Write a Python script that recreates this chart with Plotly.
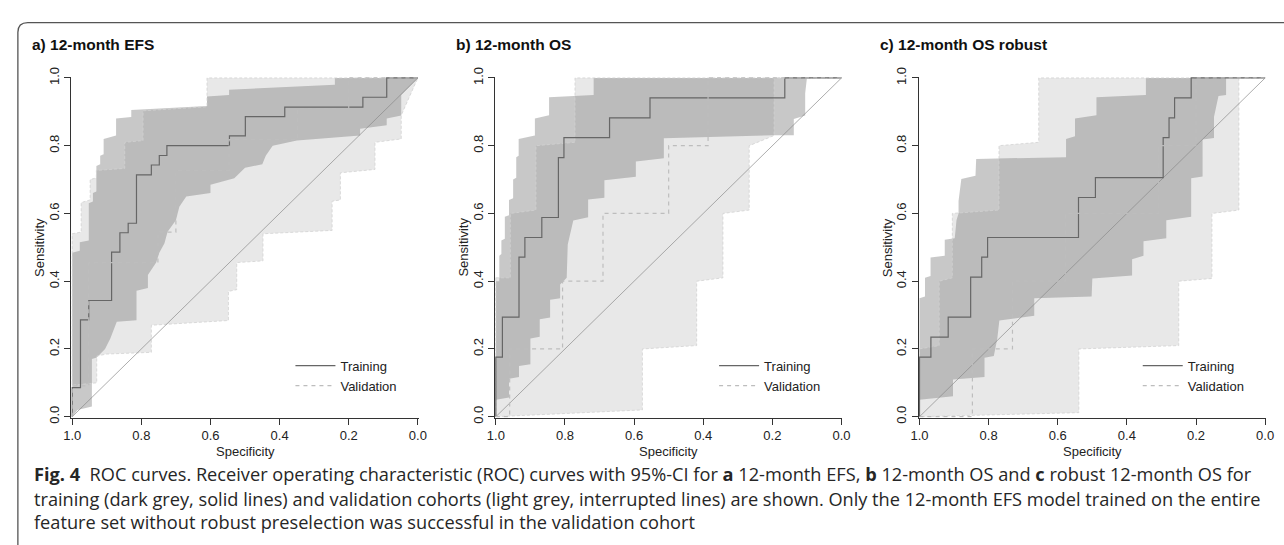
import plotly.graph_objects as go

# ---------------- data (specificity, sensitivity) ----------------
TICKS = [0.0, 0.2, 0.4, 0.6, 0.8, 1.0]
TICK_TEXT = ["0.0", "0.2", "0.4", "0.6", "0.8", "1.0"]
PANEL_TITLES = ["a) 12-month EFS", "b) 12-month OS", "c) 12-month OS robust"]
SERIES_NAMES = ["Training", "Validation"]

# Panel a: 12-month EFS
a_train_spec = [1.0, 1.0, 0.976, 0.952, 0.886, 0.862, 0.838, 0.814, 0.771, 0.748, 0.726, 0.545, 0.499, 0.385, 0.159, 0.090, 0.0]
a_train_sens = [0.0, 0.086, 0.286, 0.343, 0.486, 0.543, 0.571, 0.714, 0.743, 0.771, 0.800, 0.829, 0.886, 0.914, 0.943, 1.0, 1.0]
a_val_spec = [1.0, 1.0, 0.952, 0.752, 0.700, 0.546, 0.348, 0.200, 0.0]
a_val_sens = [0.0, 0.091, 0.455, 0.545, 0.727, 0.818, 0.909, 1.0, 1.0]
a_trci_up_spec = [1.0, 0.978, 0.978, 0.952, 0.952, 0.94, 0.94, 0.93, 0.93, 0.919, 0.919, 0.909, 0.909, 0.873, 0.873, 0.829, 0.829, 0.61, 0.61, 0.546, 0.546, 0.24, 0.24, 0.0]
a_trci_up_sens = [0.484, 0.49, 0.515, 0.52, 0.63, 0.635, 0.66, 0.665, 0.74, 0.745, 0.77, 0.775, 0.82, 0.83, 0.88, 0.885, 0.905, 0.917, 0.945, 0.95, 0.965, 0.98, 1.0, 1.0]
a_trci_lo_spec = [1.0, 0.985, 0.943, 0.943, 0.929, 0.905, 0.89, 0.871, 0.814, 0.814, 0.781, 0.781, 0.757, 0.748, 0.733, 0.724, 0.70, 0.69, 0.67, 0.60, 0.60, 0.531, 0.50, 0.45, 0.44, 0.42, 0.35, 0.167, 0.167, 0.09, 0.09, 0.048, 0.048, 0.0]
a_trci_lo_sens = [0.0, 0.02, 0.03, 0.17, 0.175, 0.20, 0.23, 0.28, 0.285, 0.372, 0.38, 0.418, 0.455, 0.484, 0.512, 0.546, 0.58, 0.62, 0.65, 0.66, 0.685, 0.704, 0.735, 0.745, 0.77, 0.80, 0.815, 0.83, 0.85, 0.86, 0.88, 0.889, 0.95, 1.0]
a_vaci_up_spec = [1.0, 0.974, 0.974, 0.948, 0.948, 0.93, 0.93, 0.848, 0.848, 0.795, 0.795, 0.61, 0.61, 0.0]
a_vaci_up_sens = [0.54, 0.545, 0.632, 0.64, 0.70, 0.705, 0.727, 0.733, 0.81, 0.815, 0.903, 0.915, 1.0, 1.0]
a_vaci_lo_spec = [1.0, 0.929, 0.929, 0.90, 0.771, 0.771, 0.548, 0.548, 0.524, 0.524, 0.448, 0.448, 0.248, 0.248, 0.224, 0.224, 0.124, 0.124, 0.048, 0.048, 0.0]
a_vaci_lo_sens = [0.093, 0.10, 0.179, 0.185, 0.19, 0.27, 0.284, 0.37, 0.375, 0.455, 0.46, 0.54, 0.55, 0.636, 0.64, 0.72, 0.73, 0.81, 0.82, 0.89, 1.0]

# Panel b: 12-month OS
b_train_spec = [1.0, 1.0, 0.981, 0.933, 0.916, 0.867, 0.819, 0.803, 0.671, 0.554, 0.164, 0.0]
b_train_sens = [0.0, 0.176, 0.294, 0.471, 0.529, 0.588, 0.765, 0.824, 0.882, 0.941, 1.0, 1.0]
b_val_spec = [1.0, 0.960, 0.807, 0.690, 0.500, 0.386, 0.0]
b_val_sens = [0.0, 0.2, 0.4, 0.6, 0.8, 1.0, 1.0]
b_trci_up_spec = [1.0, 0.99, 0.99, 0.984, 0.984, 0.974, 0.974, 0.962, 0.962, 0.95, 0.95, 0.941, 0.941, 0.934, 0.934, 0.887, 0.887, 0.846, 0.846, 0.717, 0.717, 0.0]
b_trci_up_sens = [0.40, 0.40, 0.475, 0.48, 0.52, 0.525, 0.59, 0.595, 0.64, 0.645, 0.70, 0.705, 0.766, 0.77, 0.82, 0.83, 0.88, 0.89, 0.943, 0.95, 1.0, 1.0]
b_trci_lo_spec = [1.0, 0.962, 0.962, 0.933, 0.933, 0.90, 0.90, 0.873, 0.873, 0.843, 0.843, 0.814, 0.814, 0.795, 0.792, 0.776, 0.733, 0.733, 0.686, 0.686, 0.595, 0.595, 0.514, 0.514, 0.195, 0.138, 0.138, 0.105, 0.105, 0.10, 0.0]
b_trci_lo_sens = [0.05, 0.057, 0.112, 0.117, 0.15, 0.155, 0.231, 0.236, 0.288, 0.293, 0.345, 0.35, 0.39, 0.41, 0.508, 0.579, 0.589, 0.641, 0.646, 0.698, 0.708, 0.753, 0.763, 0.822, 0.831, 0.831, 0.879, 0.889, 0.955, 1.0, 1.0]
b_vaci_up_spec = [1.0, 0.958, 0.958, 0.884, 0.884, 0.771, 0.771, 0.0]
b_vaci_up_sens = [0.41, 0.41, 0.60, 0.61, 0.80, 0.81, 1.0, 1.0]
b_vaci_lo_spec = [1.0, 0.96, 0.576, 0.576, 0.419, 0.419, 0.343, 0.343, 0.267, 0.267, 0.195, 0.195, 0.0]
b_vaci_lo_sens = [0.0, 0.0, 0.02, 0.2, 0.21, 0.4, 0.41, 0.6, 0.61, 0.8, 0.83, 1.0, 1.0]

# Panel c: 12-month OS robust
c_train_spec = [1.0, 1.0, 0.967, 0.917, 0.852, 0.820, 0.803, 0.540, 0.491, 0.295, 0.278, 0.262, 0.214, 0.0]
c_train_sens = [0.0, 0.176, 0.235, 0.294, 0.412, 0.471, 0.529, 0.647, 0.706, 0.824, 0.882, 0.941, 1.0, 1.0]
c_val_spec = [1.0, 0.847, 0.731, 0.578, 0.309, 0.200, 0.0]
c_val_sens = [0.0, 0.2, 0.4, 0.6, 0.8, 1.0, 1.0]
c_trci_up_spec = [1.0, 0.984, 0.984, 0.968, 0.968, 0.927, 0.927, 0.898, 0.893, 0.887, 0.887, 0.879, 0.838, 0.836, 0.576, 0.576, 0.55, 0.55, 0.488, 0.488, 0.345, 0.345, 0.0]
c_trci_up_sens = [0.35, 0.355, 0.41, 0.415, 0.47, 0.475, 0.522, 0.527, 0.58, 0.60, 0.637, 0.702, 0.711, 0.761, 0.766, 0.82, 0.828, 0.88, 0.89, 0.943, 0.95, 1.0, 1.0]
c_trci_lo_spec = [1.0, 0.965, 0.903, 0.903, 0.812, 0.812, 0.785, 0.775, 0.769, 0.668, 0.668, 0.502, 0.50, 0.385, 0.385, 0.352, 0.352, 0.286, 0.286, 0.214, 0.214, 0.181, 0.181, 0.148, 0.148, 0.135, 0.113, 0.113, 0.0]
c_trci_lo_sens = [0.05, 0.055, 0.06, 0.11, 0.117, 0.174, 0.179, 0.23, 0.284, 0.298, 0.35, 0.355, 0.408, 0.417, 0.465, 0.475, 0.518, 0.527, 0.58, 0.59, 0.704, 0.709, 0.818, 0.823, 0.885, 0.947, 0.95, 1.0, 1.0]
c_vaci_up_spec = [1.0, 0.943, 0.943, 0.905, 0.905, 0.77, 0.77, 0.655, 0.655, 0.0]
c_vaci_up_sens = [0.2, 0.21, 0.40, 0.41, 0.60, 0.61, 0.80, 0.81, 1.0, 1.0]
c_vaci_lo_spec = [1.0, 0.96, 0.539, 0.539, 0.25, 0.25, 0.154, 0.154, 0.076, 0.076, 0.0]
c_vaci_lo_sens = [0.0, 0.0, 0.012, 0.2, 0.21, 0.40, 0.408, 0.60, 0.61, 1.0, 1.0]

CAPTION_LINES = [
    "<b>Fig. 4</b>&nbsp;&nbsp;ROC curves. Receiver operating characteristic (ROC) curves with 95%-CI for <b>a</b> 12-month EFS, <b>b</b> 12-month OS and <b>c</b> robust 12-month OS for",
    "training (dark grey, solid lines) and validation cohorts (light grey, interrupted lines) are shown. Only the 12-month EFS model trained on the entire",
    "feature set without robust preselection was successful in the validation cohort",
]

# ---------------- layout constants (window pixels) ----------------
W, H = 1284, 545
PANEL_LEFT = [65, 494, 923]
PANEL_W = 350
PLOT_TOP, PLOT_BOTTOM = 70, 419
PAD = 1.0  # px

TRAIN_LINE = "#666666"
VAL_LINE = "#bdbdbd"
VAL_FILL = "rgb(232,232,232)"
TRAIN_FILL = "rgba(125,125,125,0.42)"
VAL_EDGE = "#d2d2d2"
AXIS_COL = "#333333"
PLOT_FONT = "Liberation Sans, Arial, Helvetica, sans-serif"


def px_x(p):
    return p / W


def px_y(p):
    return 1 - p / H


panels = [
    dict(tr=(a_train_spec, a_train_sens), va=(a_val_spec, a_val_sens),
         trci=(a_trci_up_spec, a_trci_up_sens, a_trci_lo_spec, a_trci_lo_sens),
         vaci=(a_vaci_up_spec, a_vaci_up_sens, a_vaci_lo_spec, a_vaci_lo_sens)),
    dict(tr=(b_train_spec, b_train_sens), va=(b_val_spec, b_val_sens),
         trci=(b_trci_up_spec, b_trci_up_sens, b_trci_lo_spec, b_trci_lo_sens),
         vaci=(b_vaci_up_spec, b_vaci_up_sens, b_vaci_lo_spec, b_vaci_lo_sens)),
    dict(tr=(c_train_spec, c_train_sens), va=(c_val_spec, c_val_sens),
         trci=(c_trci_up_spec, c_trci_up_sens, c_trci_lo_spec, c_trci_lo_sens),
         vaci=(c_vaci_up_spec, c_vaci_up_sens, c_vaci_lo_spec, c_vaci_lo_sens)),
]


def poly(ci):
    us, uy, ls, ly = ci
    return list(us) + list(ls)[::-1], list(uy) + list(ly)[::-1]


fig = go.Figure()
annotations = []
legend_names = ["legend", "legend2", "legend3"]

for i, p in enumerate(panels):
    sfx = "" if i == 0 else str(i + 1)
    xa, ya = "x" + sfx, "y" + sfx

    vx, vy = poly(p["vaci"])
    tx, ty = poly(p["trci"])
    fig.add_trace(go.Scatter(x=vx, y=vy, mode="lines", fill="toself", fillcolor=VAL_FILL,
                             line=dict(width=0), hoverinfo="skip", showlegend=False,
                             xaxis=xa, yaxis=ya))
    fig.add_trace(go.Scatter(x=tx, y=ty, mode="lines", fill="toself", fillcolor=TRAIN_FILL,
                             line=dict(width=0), hoverinfo="skip", showlegend=False,
                             xaxis=xa, yaxis=ya))
    fig.add_trace(go.Scatter(x=vx + [vx[0]], y=vy + [vy[0]], mode="lines",
                             line=dict(color=VAL_EDGE, width=0.8, dash="3px,2px"),
                             hoverinfo="skip", showlegend=False, xaxis=xa, yaxis=ya))
    fig.add_trace(go.Scatter(x=[1, 0], y=[0, 1], mode="lines",
                             line=dict(color="#8a8a8a", width=0.7),
                             hoverinfo="skip", showlegend=False, xaxis=xa, yaxis=ya))
    fig.add_trace(go.Scatter(x=p["tr"][0], y=p["tr"][1], mode="lines", line_shape="hv",
                             line=dict(color=TRAIN_LINE, width=1.2), name=SERIES_NAMES[0],
                             legend=legend_names[i], xaxis=xa, yaxis=ya))
    fig.add_trace(go.Scatter(x=p["va"][0], y=p["va"][1], mode="lines", line_shape="hv",
                             line=dict(color=VAL_LINE, width=1.2, dash="4px,4px"),
                             name=SERIES_NAMES[1], legend=legend_names[i], xaxis=xa, yaxis=ya))

    left = PANEL_LEFT[i]
    e = PAD / PANEL_W
    axis_common = dict(showgrid=False, zeroline=False, showline=True, linecolor=AXIS_COL,
                       linewidth=1, ticks="outside", ticklen=6, tickwidth=1, tickcolor=AXIS_COL,
                       tickvals=TICKS, ticktext=TICK_TEXT, fixedrange=True,
                       tickfont=dict(family=PLOT_FONT, size=13, color="#222222"))
    fig.update_layout({
        "xaxis" + sfx: dict(axis_common, domain=[px_x(left - PAD), px_x(left + PANEL_W + PAD)],
                            range=[1 + e, -e], anchor=ya),
        "yaxis" + sfx: dict(axis_common, domain=[px_y(PLOT_BOTTOM + PAD), px_y(PLOT_TOP - PAD)],
                            range=[-e, 1 + e], anchor=xa, tickangle=-90),
        legend_names[i]: dict(x=px_x(left + 221), y=px_y(351), xanchor="left", yanchor="top",
                              bgcolor="rgba(0,0,0,0)", font=dict(family=PLOT_FONT, size=13, color="#222222"),
                              tracegroupgap=0, itemwidth=40),
    })

    annotations.append(dict(text="<b>%s</b>" % PANEL_TITLES[i], x=px_x(left - 42.5), y=px_y(36),
                            xref="paper", yref="paper", xanchor="left", yanchor="middle",
                            showarrow=False, font=dict(family=PLOT_FONT, size=15.5, color="#111111")))
    annotations.append(dict(text="Sensitivity", x=px_x(left - 33), y=px_y((PLOT_TOP + PLOT_BOTTOM) / 2),
                            xref="paper", yref="paper", xanchor="center", yanchor="middle",
                            textangle=-90, showarrow=False,
                            font=dict(family=PLOT_FONT, size=13, color="#222222")))
    annotations.append(dict(text="Specificity", x=px_x(left + PANEL_W / 2), y=px_y(455),
                            xref="paper", yref="paper", xanchor="center", yanchor="middle",
                            showarrow=False, font=dict(family=PLOT_FONT, size=13, color="#222222")))

for j, line in enumerate(CAPTION_LINES):
    annotations.append(dict(text=line, x=px_x(24.5), y=px_y([478, 504, 528][j]),
                            xref="paper", yref="paper", xanchor="left", yanchor="middle",
                            showarrow=False, align="left",
                            font=dict(family="Open Sans, sans-serif", size=18.2, color="#262626")))

# rounded frame: left and top edges
r_x, r_y = 10 / W, 10 / H
fx, fy = px_x(10), px_y(13)
frame = dict(type="path", xref="paper", yref="paper",
             path=f"M {fx},-0.05 L {fx},{fy - r_y} Q {fx},{fy} {fx + r_x},{fy} L 1.05,{fy}",
             line=dict(color="#555555", width=1.3))

fig.update_layout(width=W, height=H, margin=dict(l=0, r=0, t=0, b=0),
                  paper_bgcolor="white", plot_bgcolor="rgba(0,0,0,0)",
                  annotations=annotations, shapes=[frame], hovermode=False)

PAGE_FIX = (
    "var gd=document.getElementById('{plot_id}');"
    "document.documentElement.style.margin='0';document.body.style.margin='0';"
    "document.documentElement.style.overflow='hidden';document.body.style.overflow='hidden';"
    "gd.style.position='fixed';gd.style.left='0px';gd.style.top='0px';"
    "gd.style.width=window.innerWidth+'px';gd.style.height=window.innerHeight+'px';"
    "Plotly.relayout(gd,{width:window.innerWidth,height:window.innerHeight});"
)

fig.write_html("out.html", config={"displayModeBar": False}, post_script=PAGE_FIX)
